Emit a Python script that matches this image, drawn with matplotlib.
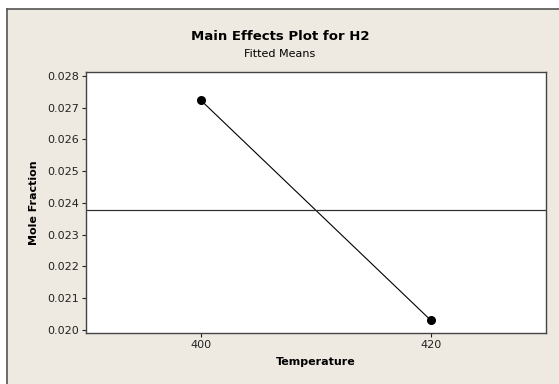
import matplotlib
matplotlib.use("Agg")
import matplotlib.pyplot as plt
from matplotlib.patches import Rectangle

# fitted means
temperature = [400, 420]
mole_fraction = [0.027226, 0.020300]
grand_mean = sum(mole_fraction) / len(mole_fraction)
yticks = [0.020, 0.021, 0.022, 0.023, 0.024, 0.025, 0.026, 0.027, 0.028]

W, H = 559, 384
fig = plt.figure(figsize=(W / 100, H / 100), dpi=100, facecolor="white")

# beige panel with dark border at top/left
fig.patches.append(Rectangle((7 / W, 0), 1 - 7 / W, 1 - 9 / H, transform=fig.transFigure,
                             facecolor="#EEEAE1", edgecolor="none", zorder=-5))
fig.add_artist(plt.Line2D([7 / W, 7 / W], [0, 1 - 9 / H], color="#555555", lw=1.2,
                          transform=fig.transFigure, zorder=-4))
fig.add_artist(plt.Line2D([7 / W, 1], [1 - 9 / H, 1 - 9 / H], color="#555555", lw=1.2,
                          transform=fig.transFigure, zorder=-4))

ax = fig.add_axes([86 / W, 1 - 333 / H, (546 - 86) / W, (333 - 72) / H])
ax.set_facecolor("white")

ax.plot(temperature, mole_fraction, color="black", lw=0.8, marker="o", ms=5.5)
ax.axhline(grand_mean, color="#333333", lw=0.9)

ax.set_xlim(390, 430)
ax.set_ylim(0.019906, 0.02812)
ax.set_xticks(temperature)
ax.set_yticks(yticks)
ax.set_yticklabels(["%.3f" % v for v in yticks])
ax.tick_params(direction="out", length=3, width=0.8, labelsize=8, colors="#222222", pad=2)
for s in ax.spines.values():
    s.set_color("#444444")
    s.set_linewidth(1.0)

ax.set_xlabel("Temperature", fontsize=8, fontweight="bold", labelpad=5)
ax.set_ylabel("Mole Fraction", fontsize=8, fontweight="bold", labelpad=6)

fig.text(280 / W, 1 - 36 / H, "Main Effects Plot for H2", ha="center", va="center",
         fontsize=9.5, fontweight="bold")
fig.text(280 / W, 1 - 54 / H, "Fitted Means", ha="center", va="center", fontsize=8)

fig.savefig("out.png", dpi=100, facecolor=fig.get_facecolor())
